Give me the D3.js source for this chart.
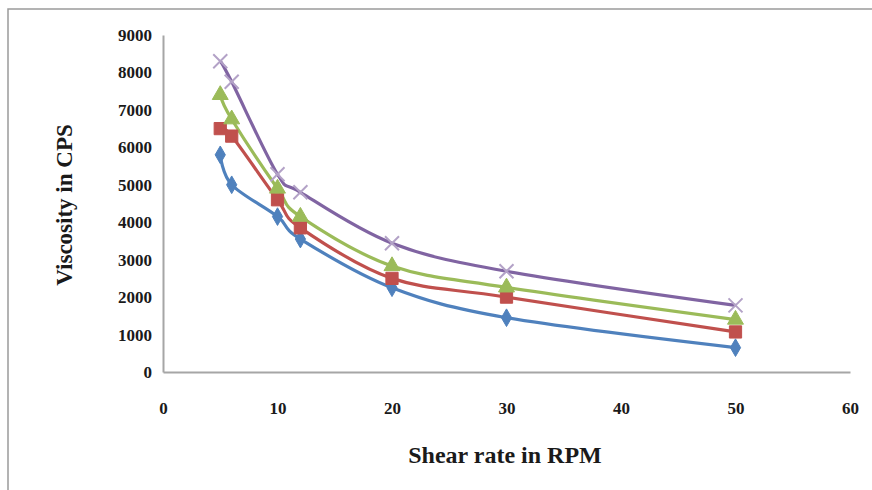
<!DOCTYPE html>
<html>
<head>
<meta charset="utf-8">
<script src="https://cdn.jsdelivr.net/npm/d3@7"></script>
<style>
  html, body { margin: 0; padding: 0; background: #fff; }
  svg { display: block; }
</style>
</head>
<body>
<svg id="chart" width="872" height="490"></svg>
<script>
// ---- data ----
const shearRate = [5, 6, 10, 12, 20, 30, 50];
const seriesA = [5800, 5000, 4150, 3550, 2250, 1450, 650];   // blue diamonds
const seriesB = [6500, 6300, 4600, 3850, 2500, 2000, 1070];  // red squares
const seriesC = [7400, 6750, 4900, 4150, 2830, 2260, 1400];  // green triangles
const seriesD = [8300, 7750, 5280, 4800, 3440, 2690, 1780];  // purple crosses
const xTicks = [0, 10, 20, 30, 40, 50, 60];
const yTicks = [0, 1000, 2000, 3000, 4000, 5000, 6000, 7000, 8000, 9000];
const xTitle = "Shear rate in RPM";
const yTitle = "Viscosity in CPS";

const seriesList = [
  { values: seriesA, color: "#4F81BD", marker: "diamond" },
  { values: seriesB, color: "#C0504D", marker: "square" },
  { values: seriesC, color: "#9BBB59", marker: "triangle" },
  { values: seriesD, color: "#8064A2", marker: "cross" }
];

const svg = d3.select("#chart");

// outer frame
svg.append("rect").attr("x", 8).attr("y", 9).attr("width", 900).attr("height", 520)
  .attr("fill", "none").attr("stroke", "#9a9a9a").attr("stroke-width", 1.5);

const plotL = 163, plotR = 850, plotT = 35, plotB = 372;
const x = d3.scaleLinear().domain([0, 60]).range([plotL, plotR]);
const y = d3.scaleLinear().domain([0, 9000]).range([plotB, plotT]);

const tickFont = "'Liberation Serif', 'Times New Roman', serif";

// axes
const xAxis = svg.append("g").attr("transform", `translate(0,${plotB})`)
  .call(d3.axisBottom(x).tickValues(xTicks).tickSize(0).tickPadding(30).tickFormat(d3.format("d")));
const yAxis = svg.append("g").attr("transform", `translate(${plotL},0)`)
  .call(d3.axisLeft(y).tickValues(yTicks).tickSize(0).tickPadding(11).tickFormat(d3.format("d")));

[xAxis, yAxis].forEach(g => {
  g.select(".domain").attr("stroke", "#a6a6a6").attr("stroke-width", 2);
  g.selectAll("text").attr("font-family", tickFont).attr("font-weight", "bold")
    .attr("font-size", 17).attr("fill", "#1a1a1a");
});

// series
const line = d3.line()
  .x((d, i) => x(shearRate[i]))
  .y(d => y(d))
  .curve(d3.curveCardinal.tension(0));

seriesList.forEach(s => {
  svg.append("path").datum(s.values)
    .attr("d", line).attr("fill", "none")
    .attr("stroke", s.color).attr("stroke-width", 3.2)
    .attr("stroke-linejoin", "round");
});

const symbols = {
  diamond: d3.symbol().type(d3.symbolDiamond).size(90),
  square: d3.symbol().type(d3.symbolSquare).size(150),
  triangle: d3.symbol().type(d3.symbolTriangle).size(110)
};

seriesList.forEach(s => {
  const g = svg.append("g");
  s.values.forEach((v, i) => {
    const cx = x(shearRate[i]), cy = y(v);
    if (s.marker === "cross") {
      const r = 7;
      g.append("path")
        .attr("d", `M${cx - r},${cy - r}L${cx + r},${cy + r}M${cx - r},${cy + r}L${cx + r},${cy - r}`)
        .attr("stroke", "#B3A2C7").attr("stroke-width", 2).attr("fill", "none");
    } else {
      g.append("path").attr("d", symbols[s.marker]())
        .attr("transform", `translate(${cx},${cy})`)
        .attr("fill", s.color).attr("stroke", s.color).attr("stroke-width", 1);
    }
  });
});

// titles
svg.append("text").attr("x", 505).attr("y", 463).attr("text-anchor", "middle")
  .attr("font-family", tickFont).attr("font-weight", "bold").attr("font-size", 24)
  .attr("fill", "#1a1a1a").text(xTitle);

svg.append("text").attr("transform", "translate(72,205) rotate(-90)")
  .attr("text-anchor", "middle")
  .attr("font-family", tickFont).attr("font-weight", "bold").attr("font-size", 23)
  .attr("fill", "#1a1a1a").text(yTitle);
</script>
</body>
</html>
